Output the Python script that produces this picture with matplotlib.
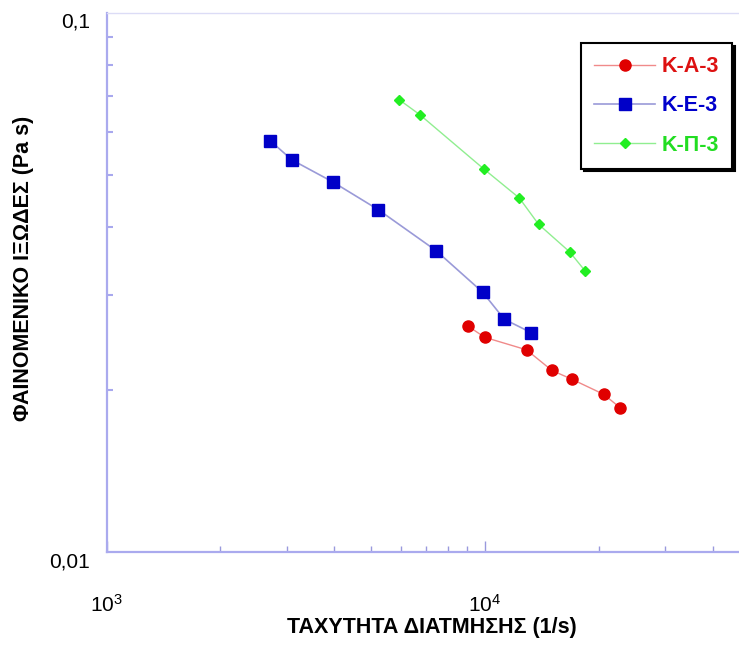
import matplotlib
matplotlib.use("Agg")
import matplotlib.pyplot as plt
from matplotlib.ticker import FixedLocator, NullFormatter, FixedFormatter

plt.rcParams['font.family'] = ['Liberation Sans', 'DejaVu Sans']
plt.rcParams['mathtext.fontset'] = 'custom'
plt.rcParams['mathtext.rm'] = 'Liberation Sans'
plt.rcParams['mathtext.it'] = 'Liberation Sans:italic'
plt.rcParams['mathtext.bf'] = 'Liberation Sans:bold'

# ---- data ----
ka3_x = [9045, 9994, 12890, 15050, 17000, 20620, 22810]
ka3_y = [0.0262, 0.0250, 0.0237, 0.0217, 0.0209, 0.0196, 0.0185]

ke3_x = [2705, 3092, 3969, 5230, 7430, 9872, 11260, 13270]
ke3_y = [0.0579, 0.0533, 0.0485, 0.0431, 0.0362, 0.0303, 0.0270, 0.0255]

kp3_x = [5943, 6743, 9934, 12340, 13870, 16760, 18410]
kp3_y = [0.0689, 0.0646, 0.0513, 0.0453, 0.0405, 0.0360, 0.0332]

series_names = ['K-A-3', 'K-E-3', 'K-Π-3']
x_major = [1e3, 1e4]
x_major_labels = ['$10^3$', '$10^4$']
x_minor = [2e3, 3e3, 4e3, 5e3, 6e3, 7e3, 8e3, 9e3, 2e4, 3e4, 4e4]
y_major = [0.01, 0.1]
y_major_labels = ['0,01', '0,1']
y_minor = [0.02, 0.03, 0.04, 0.05, 0.06, 0.07, 0.08, 0.09]

xlabel = 'ΤΑΧΥΤΗΤΑ ΔΙΑΤΜΗΣΗΣ (1/s)'
ylabel = 'ΦΑΙΝΟΜΕΝΙΚΟ ΙΞΩΔΕΣ (Pa s)'

# ---- figure ----
W, H = 739, 648
fig = plt.figure(figsize=(W / 100, H / 100), dpi=100)
left, right, bottom, top = 106.5, 739, 552, 12.5
ax = fig.add_axes([left / W, 1 - bottom / H, (right - left) / W, (bottom - top) / H])

ax.set_xscale('log')
ax.set_yscale('log')
ax.set_xlim(1e3, 10 ** (3 + (right - left) / 378.3))
ax.set_ylim(0.01, 0.1)

ax.plot(ka3_x, ka3_y, color='#f08a8a', lw=1.0, marker='o', ms=8,
        mfc='#e00000', mec='#e00000', label=series_names[0])
ax.plot(ke3_x, ke3_y, color='#9a9ad8', lw=1.2, marker='s', ms=8.5,
        mfc='#0000c8', mec='#0000c8', label=series_names[1])
ax.plot(kp3_x, kp3_y, color='#90ee90', lw=1.0, marker='D', ms=5.5,
        mfc='#22ee22', mec='#22ee22', label=series_names[2])

spine_col = '#aaaaee'
ax.spines['left'].set_color(spine_col)
ax.spines['left'].set_linewidth(1.6)
ax.spines['bottom'].set_color(spine_col)
ax.spines['bottom'].set_linewidth(1.6)
ax.spines['top'].set_color('#dcdcf6')
ax.spines['top'].set_linewidth(1.0)
ax.spines['right'].set_visible(False)

ax.xaxis.set_major_locator(FixedLocator(x_major))
ax.xaxis.set_major_formatter(FixedFormatter(x_major_labels))
ax.xaxis.set_minor_locator(FixedLocator(x_minor))
ax.xaxis.set_minor_formatter(NullFormatter())
ax.yaxis.set_major_locator(FixedLocator(y_major))
ax.yaxis.set_major_formatter(FixedFormatter(y_major_labels))
ax.yaxis.set_minor_locator(FixedLocator(y_minor))
ax.yaxis.set_minor_formatter(NullFormatter())

ax.tick_params(axis='x', which='major', direction='in', length=8, width=1,
               color='#9999dd', pad=30, labelsize=15)
ax.tick_params(axis='x', which='minor', direction='in', length=4.5, width=1,
               color='#9999dd')
ax.tick_params(axis='y', which='major', direction='in', length=0,
               pad=12, labelsize=15)
ax.tick_params(axis='y', which='minor', direction='in', length=4.5, width=1.5,
               color='#a8a8ee')
for t in ax.get_yticklabels():
    t.set_verticalalignment('top')

fig.text(432 / W, 1 - 628 / H, xlabel, ha='center', va='center',
         fontsize=15.5, fontweight='bold')
fig.text(24 / W, 1 - 268 / H, ylabel, ha='center', va='center',
         rotation=90, fontsize=15.5, fontweight='bold')

leg = ax.legend(loc='upper right', bbox_to_anchor=(0.989, 0.943),
                frameon=True, fancybox=False,
                shadow={'color': 'black', 'alpha': 1.0},
                edgecolor='black', handlelength=2.8,
                handletextpad=0.33, labelspacing=0.85, borderpad=0.6,
                borderaxespad=0, prop={'weight': 'bold', 'size': 15.5})
leg.get_frame().set_linewidth(1.5)
text_cols = ['#dd1111', '#0000cc', '#22dd22']
for txt, c in zip(leg.get_texts(), text_cols):
    txt.set_color(c)

fig.savefig('out.png', dpi=100)
